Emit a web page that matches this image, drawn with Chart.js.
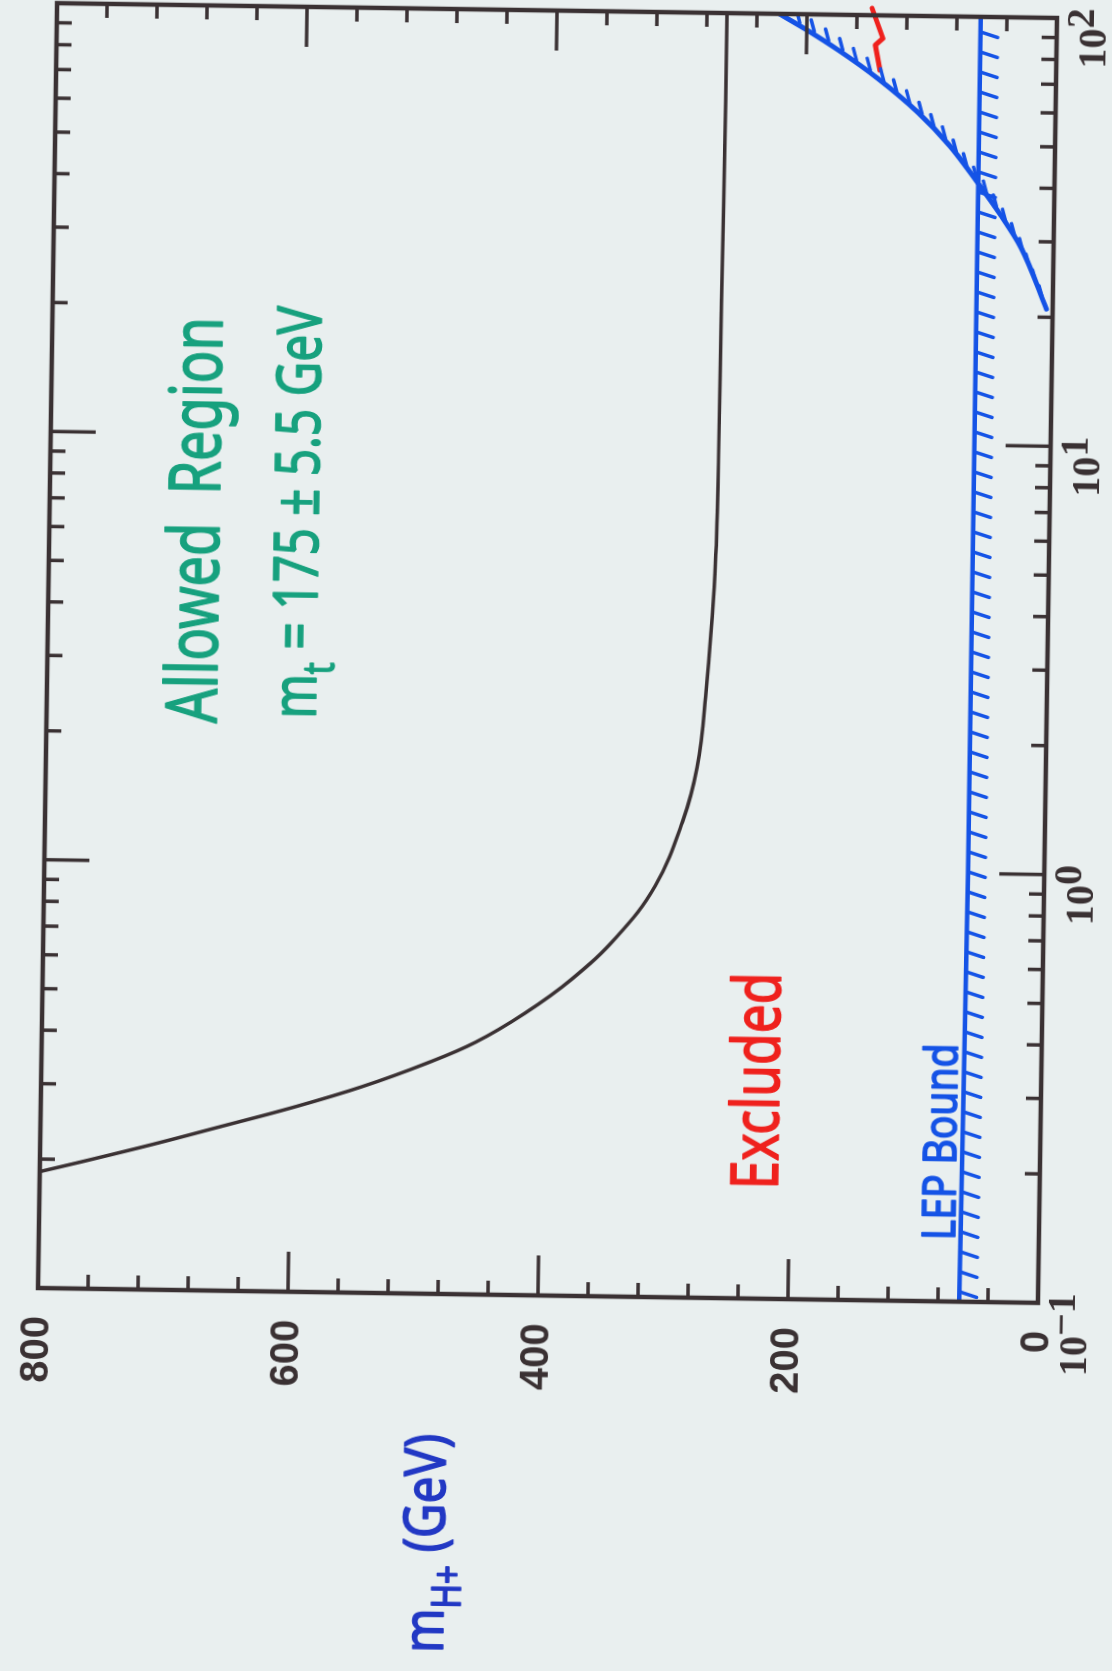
<!DOCTYPE html>
<html>
<head>
<meta charset="utf-8">
<script src="https://cdn.jsdelivr.net/npm/chart.js@4.4.1/dist/chart.umd.min.js"></script>
<style>
    html, body { margin: 0; padding: 0; width: 1112px; height: 1671px; overflow: hidden; background: #e9efef; }
    /* the scanned figure is printed sideways, slightly skewed */
    #sheet { position: absolute; left: 0; top: 0; width: 1700px; height: 1112px;
             transform-origin: 0 0; transform: translate(-19.6px, 1667.2px) rotate(-89.15deg); }
</style>
</head>
<body>
<div id="sheet"><canvas id="hplusLimits" width="1700" height="1112"></canvas></div>
<script>
// tan(beta) / m_H+ (GeV)
const tanbBoundary = [0.187, 0.198, 0.218, 0.242, 0.269, 0.303, 0.345, 0.388, 0.455, 0.548, 0.693, 0.913, 1.29, 1.73, 2.53, 4.91, 9.23, 20.9, 62.4, 100];
const mBoundary = [800, 766, 711, 655, 599, 543, 492, 453, 414, 377, 341, 311, 290, 279, 273, 267, 265.5, 265, 264, 264];

const tanbLep = [0.1, 0.3, 1, 10, 100];
const mLep = [63, 62, 61, 61, 61];

const tanbBlueBound = [20.9, 29, 34.6, 41.2, 49.8, 59.5, 71, 82.5, 92.3, 100];
const mBlueBound = [5, 26, 43, 62, 84, 110, 142, 174, 201, 222];

const tanbRedBound = [74.5, 85.2, 88.4, 103.8, 111.3];
const mRedBound = [141, 145, 139, 148, 149];

const massTicks = [0, 200, 400, 600, 800];
const tanbTicks = [0.1, 1, 10, 100];
const tanbTickLabels = ['10^\u22121', '10^0', '10^1', '10^2'];

const ink = '#3a3133';
const blue = '#1553e6';
const red = '#ef211d';
const green = '#17a17e';

// hand-written notes, placed in data coordinates (tanb from..to, baseline mass)
const notes = [
    { parts: [['Allowed  Region']], from: 2.11, to: 18.7, m: 664, size: 72, color: green },
    { parts: [['m'], ['t', 'sub'], [' = 175 \u00b1 5.5 GeV']], from: 2.18, to: 20.0, m: 585, size: 62, color: green },
    { parts: [['Excluded']], from: 0.18, to: 0.577, m: 210, size: 66, color: red },
    { parts: [['LEP Bound']], from: 0.139, to: 0.40, m: 67, size: 46, color: blue }
];

function toPoints(xs, ys) {
    return xs.map((x, i) => ({ x: x, y: ys[i] }));
}

function drawRun(ctx, parts, size, x0, x1, base, color) {
    const family = '"Noto Sans", sans-serif';
    let total = 0;
    const runs = parts.map(([text, kind]) => {
        const s = kind ? size * 0.7 : size;
        ctx.font = s + 'px ' + family;
        const w = ctx.measureText(text).width;
        total += w;
        return { text: text, s: s, w: w, dy: kind === 'sub' ? size * 0.3 : 0 };
    });
    ctx.save();
    ctx.translate(x0, base);
    ctx.scale((x1 - x0) / total, 1);
    ctx.fillStyle = color;
    ctx.strokeStyle = color;
    ctx.lineWidth = 1.6;
    ctx.lineJoin = 'round';
    ctx.textBaseline = 'alphabetic';
    let cx = 0;
    runs.forEach((r) => {
        ctx.font = r.s + 'px ' + family;
        ctx.fillText(r.text, cx, r.dy);
        ctx.strokeText(r.text, cx, r.dy);
        cx += r.w;
    });
    ctx.restore();
}

const hatchPlugin = {
    id: 'hatch',
    afterDatasetsDraw(chart) {
        const { ctx, chartArea: a } = chart;
        ctx.save();
        ctx.beginPath();
        ctx.rect(a.left, a.top, a.right - a.left, a.bottom - a.top);
        ctx.clip();
        chart.data.datasets.forEach((ds, i) => {
            const h = ds.hatch;
            if (!h) return;
            const pts = chart.getDatasetMeta(i).data;
            const n = Math.hypot(h.dir[0], h.dir[1]);
            const dx = h.dir[0] / n, dy = h.dir[1] / n;
            ctx.strokeStyle = ds.borderColor;
            ctx.lineWidth = h.width;
            ctx.lineCap = 'round';
            let carry = h.spacing / 2;
            for (let k = 1; k < pts.length; k++) {
                const p = pts[k - 1], q = pts[k];
                const seg = Math.hypot(q.x - p.x, q.y - p.y);
                let s = carry;
                while (s < seg) {
                    const t = s / seg;
                    const x = p.x + (q.x - p.x) * t, y = p.y + (q.y - p.y) * t;
                    ctx.beginPath();
                    ctx.moveTo(x + dx * h.gap, y + dy * h.gap);
                    ctx.lineTo(x + dx * (h.gap + h.len), y + dy * (h.gap + h.len));
                    ctx.stroke();
                    s += h.spacing;
                }
                carry = s - seg;
            }
        });
        ctx.restore();
    }
};

const framePlugin = {
    id: 'frame',
    afterDatasetsDraw(chart) {
        const { ctx, chartArea: a, scales: { x, y } } = chart;
        const line = (x0, y0, x1, y1) => {
            ctx.beginPath(); ctx.moveTo(x0, y0); ctx.lineTo(x1, y1); ctx.stroke();
        };
        ctx.save();
        ctx.strokeStyle = ink;
        ctx.lineWidth = 3.5;
        // inward ticks, every 40 GeV
        for (let m = 0; m <= 800; m += 40) {
            const py = y.getPixelForValue(m);
            const len = massTicks.includes(m) ? 40 : 14;
            line(a.left, py, a.left + len, py);
            line(a.right, py, a.right - len, py);
        }
        // inward log ticks
        for (let e = -1; e <= 1; e++) {
            for (let k = 1; k <= 9; k++) {
                const px = x.getPixelForValue(k * Math.pow(10, e));
                const len = k === 1 ? 45 : 15;
                line(px, a.bottom, px, a.bottom - len);
                line(px, a.top, px, a.top + len);
            }
        }
        ctx.lineWidth = 4.5;
        ctx.strokeRect(a.left, a.top, a.right - a.left, a.bottom - a.top);

        // tan(beta) labels with raised exponent
        ctx.fillStyle = ink;
        ctx.font = 'bold 40px "Liberation Serif", serif';
        ctx.textBaseline = 'alphabetic';
        tanbTicks.forEach((v, i) => {
            const [base, exp] = tanbTickLabels[i].split('^');
            const wb = ctx.measureText(base).width;
            const we = ctx.measureText(exp).width;
            const end = x.getPixelForValue(v) + 10;
            ctx.fillText(base, end - we - wb, a.bottom + 49);
            ctx.fillText(exp, end - we, a.bottom + 37);
        });

        // axis title, hand lettered beside the mass axis
        drawRun(ctx, [['m'], ['H+', 'sub'], [' (GeV)']], 56, a.left - 359, a.left - 140, a.top + 410, '#2238c4');

        notes.forEach((nt) => {
            drawRun(ctx, nt.parts, nt.size, x.getPixelForValue(nt.from), x.getPixelForValue(nt.to),
                y.getPixelForValue(nt.m), nt.color);
        });
        ctx.restore();
    }
};

new Chart(document.getElementById('hplusLimits').getContext('2d'), {
    type: 'line',
    data: {
        datasets: [{
            data: toPoints(tanbBoundary, mBoundary),
            borderColor: ink,
            borderWidth: 3.5,
            tension: 0.4
        }, {
            data: toPoints(tanbLep, mLep),
            borderColor: blue,
            borderWidth: 4.5,
            hatch: { dir: [-0.30, 0.95], len: 17, gap: 1, spacing: 20, width: 3.5 }
        }, {
            data: toPoints(tanbBlueBound, mBlueBound),
            borderColor: blue,
            borderWidth: 5,
            cubicInterpolationMode: 'monotone',
            hatch: { dir: [0.96, -0.27], len: 12, gap: 4, spacing: 17, width: 3.5 }
        }, {
            data: toPoints(tanbRedBound, mRedBound),
            borderColor: red,
            borderWidth: 5,
            clip: false
        }]
    },
    options: {
        responsive: false,
        animation: false,
        devicePixelRatio: 1,
        elements: { point: { radius: 0 }, line: { borderCapStyle: 'round', borderJoinStyle: 'round' } },
        layout: { padding: { left: 0, right: 35, top: 40, bottom: 0 } },
        plugins: { legend: { display: false }, tooltip: { enabled: false } },
        scales: {
            x: {
                type: 'logarithmic',
                min: 0.1,
                max: 100,
                grid: { display: false, drawTicks: false },
                border: { display: false },
                ticks: { display: false },
                afterFit: (scale) => { scale.height = 60; }
            },
            y: {
                min: 0,
                max: 800,
                grid: { display: false, drawTicks: false },
                border: { display: false },
                ticks: {
                    stepSize: 200,
                    padding: 28,
                    color: ink,
                    font: { family: '"Liberation Sans", sans-serif', weight: 'bold', size: 40 }
                },
                afterFit: (scale) => { scale.width = 380; }
            }
        }
    },
    plugins: [hatchPlugin, framePlugin]
});
</script>
</body>
</html>
